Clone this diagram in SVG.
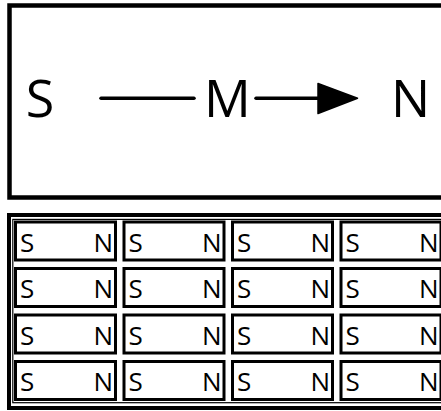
<svg xmlns="http://www.w3.org/2000/svg" width="441" height="411" viewBox="0 0 441 411">
<style>
.big{font-family:"Open Sans","Liberation Sans",sans-serif;font-size:52px;fill:#000}
.sm{font-family:"Open Sans","Liberation Sans",sans-serif;font-size:26px;fill:#000}
.cell{fill:#fff;stroke:#000;stroke-width:3}
.conn{stroke:#000;stroke-width:3.5;stroke-linecap:round;fill:none}
.r{text-anchor:end}
</style>
<rect width="441" height="411" fill="#fff"/>
<g id="top-frame">
<rect x="9.5" y="5.5" width="440" height="192" fill="none" stroke="#000" stroke-width="4.5"/>
</g>
<g id="node-S"><text class="big" x="40" y="117" text-anchor="middle">S</text></g>
<g id="node-M"><text class="big" x="227.5" y="117" text-anchor="middle">M</text></g>
<g id="node-N"><text class="big" x="410.5" y="117" text-anchor="middle">N</text></g>
<g id="connectors">
<line class="conn" x1="101" y1="98.3" x2="194" y2="98.3"/>
<line class="conn" x1="256" y1="98.3" x2="322" y2="98.3"/>
<path d="M318,83.5 L357.5,98.3 L318,113.5 Z" fill="#000" stroke="#000" stroke-width="1.5" stroke-linejoin="round"/>
</g>
<g id="bottom-frame">
<rect x="9" y="215" width="440" height="193" fill="none" stroke="#000" stroke-width="4"/>
<rect x="12.8" y="219.4" width="440" height="183.3" fill="none" stroke="#000" stroke-width="1.2"/>
</g>
<g id="grid">
<g id="cell-1-1"><rect class="cell" x="15.5" y="222" width="100" height="38"/><text class="sm" x="20" y="251.5">S</text><text class="sm r" x="113" y="251.5">N</text></g>
<g id="cell-1-2"><rect class="cell" x="124" y="222" width="100" height="38"/><text class="sm" x="128.5" y="251.5">S</text><text class="sm r" x="221.5" y="251.5">N</text></g>
<g id="cell-1-3"><rect class="cell" x="232.5" y="222" width="100" height="38"/><text class="sm" x="237" y="251.5">S</text><text class="sm r" x="330" y="251.5">N</text></g>
<g id="cell-1-4"><rect class="cell" x="341" y="222" width="100" height="38"/><text class="sm" x="345.5" y="251.5">S</text><text class="sm r" x="438.5" y="251.5">N</text></g>
<g id="cell-2-1"><rect class="cell" x="15.5" y="268.5" width="100" height="38"/><text class="sm" x="20" y="298">S</text><text class="sm r" x="113" y="298">N</text></g>
<g id="cell-2-2"><rect class="cell" x="124" y="268.5" width="100" height="38"/><text class="sm" x="128.5" y="298">S</text><text class="sm r" x="221.5" y="298">N</text></g>
<g id="cell-2-3"><rect class="cell" x="232.5" y="268.5" width="100" height="38"/><text class="sm" x="237" y="298">S</text><text class="sm r" x="330" y="298">N</text></g>
<g id="cell-2-4"><rect class="cell" x="341" y="268.5" width="100" height="38"/><text class="sm" x="345.5" y="298">S</text><text class="sm r" x="438.5" y="298">N</text></g>
<g id="cell-3-1"><rect class="cell" x="15.5" y="315" width="100" height="38"/><text class="sm" x="20" y="344.5">S</text><text class="sm r" x="113" y="344.5">N</text></g>
<g id="cell-3-2"><rect class="cell" x="124" y="315" width="100" height="38"/><text class="sm" x="128.5" y="344.5">S</text><text class="sm r" x="221.5" y="344.5">N</text></g>
<g id="cell-3-3"><rect class="cell" x="232.5" y="315" width="100" height="38"/><text class="sm" x="237" y="344.5">S</text><text class="sm r" x="330" y="344.5">N</text></g>
<g id="cell-3-4"><rect class="cell" x="341" y="315" width="100" height="38"/><text class="sm" x="345.5" y="344.5">S</text><text class="sm r" x="438.5" y="344.5">N</text></g>
<g id="cell-4-1"><rect class="cell" x="15.5" y="361.5" width="100" height="38"/><text class="sm" x="20" y="391">S</text><text class="sm r" x="113" y="391">N</text></g>
<g id="cell-4-2"><rect class="cell" x="124" y="361.5" width="100" height="38"/><text class="sm" x="128.5" y="391">S</text><text class="sm r" x="221.5" y="391">N</text></g>
<g id="cell-4-3"><rect class="cell" x="232.5" y="361.5" width="100" height="38"/><text class="sm" x="237" y="391">S</text><text class="sm r" x="330" y="391">N</text></g>
<g id="cell-4-4"><rect class="cell" x="341" y="361.5" width="100" height="38"/><text class="sm" x="345.5" y="391">S</text><text class="sm r" x="438.5" y="391">N</text></g>
</g>
</svg>
